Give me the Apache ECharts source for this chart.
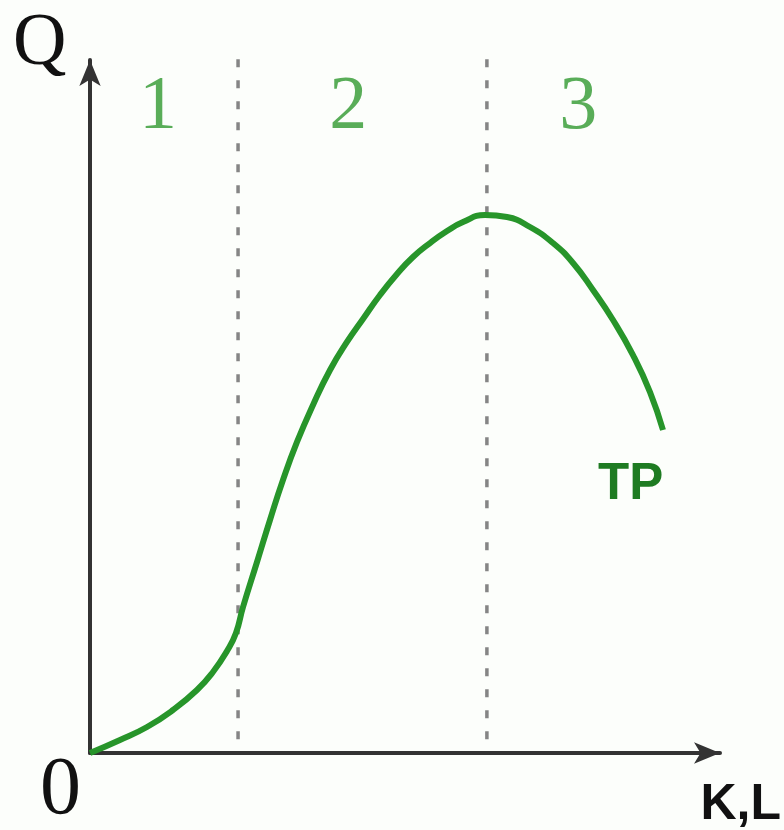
<!DOCTYPE html>
<html>
<head>
<meta charset="utf-8">
<script src="https://cdn.jsdelivr.net/npm/echarts@6/dist/echarts.min.js"></script>
<style>
  html, body { margin: 0; padding: 0; background: #fcfefb; }
  #main { width: 784px; height: 830px; }
</style>
</head>
<body>
<div id="main"></div>
<script>
// total product curve (x: input K,L, y: output Q)
var inputs = [0, 4.76, 9.05, 13.17, 16.98, 19.52, 21.75, 23.17, 24.29, 26.51, 28.57, 30.63, 32.86,
    35.40, 38.10, 40.79, 43.33, 46.03, 48.73, 51.27, 53.97, 56.67, 59.21, 62.70, 66.19, 69.84,
    73.49, 76.67, 79.84, 83.02, 86.19, 88.89, 90.95];
var output = [0, 1.88, 3.75, 6.20, 9.09, 11.69, 14.72, 17.32, 21.07, 27.56, 33.62, 39.39, 44.88,
    50.22, 55.27, 59.31, 62.63, 66.09, 69.12, 71.57, 73.59, 75.32, 76.62, 77.63, 77.34, 75.90,
    73.59, 70.71, 66.81, 62.48, 57.43, 52.09, 46.61];

// stage boundaries and stage names
var boundaries = [23.5, 63.0];
var stageNames = ["1", "2", "3"];
var stageX = [10.8, 41.0, 77.5];
var stageY = 93;

var myChart = echarts.init(document.getElementById("main"), null, {
    width: 784,
    height: 830,
});

var curve = inputs.map(function (x, i) {
    return [x, output[i]];
});

var boundarySeries = boundaries.map(function (b) {
    return {
        type: "line",
        data: [[b, 2], [b, 101.5]],
        clip: false,
        showSymbol: false,
        silent: true,
        lineStyle: { color: "#858585", width: 3.5, type: [8, 13] },
        z: 1,
    };
});

var option = {
    backgroundColor: "#fcfefb",
    animation: false,
    grid: { left: 90, right: 64, top: 60, bottom: 77 },
    xAxis: {
        type: "value",
        min: 0,
        max: 100,
        axisLine: {
            show: true,
            symbol: ["none", "arrow"],
            symbolSize: [16, 26],
            lineStyle: { color: "#333", width: 4 },
        },
        axisTick: { show: false },
        axisLabel: { show: false },
        splitLine: { show: false },
    },
    yAxis: {
        type: "value",
        min: 0,
        max: 100,
        axisLine: {
            show: true,
            symbol: ["none", "arrow"],
            symbolSize: [16, 26],
            lineStyle: { color: "#333", width: 4 },
        },
        axisTick: { show: false },
        axisLabel: { show: false },
        splitLine: { show: false },
    },
    series: boundarySeries.concat([
        {
            type: "line",
            data: curve,
            smooth: 0.5,
            showSymbol: false,
            lineStyle: { color: "#27952a", width: 6 },
            z: 3,
        },
        {
            type: "scatter",
            data: stageX.map(function (x, i) {
                return [x, stageY, stageNames[i]];
            }),
            symbolSize: 0,
            label: {
                show: true,
                position: "inside",
                formatter: function (p) {
                    return p.data[2];
                },
                fontFamily: "Liberation Serif",
                fontSize: 76,
                color: "#2f982f",
            },
        },
    ]),
    graphic: [
        {
            type: "text",
            left: 13,
            top: 8,
            style: { text: "Q", font: "74px 'Liberation Serif'", fill: "#111" },
        },
        {
            type: "text",
            left: 40,
            top: 750,
            style: { text: "0", font: "82px 'Liberation Serif'", fill: "#111" },
        },
        {
            type: "text",
            right: 3,
            top: 780,
            style: { text: "K,L", font: "bold 50px 'Liberation Sans'", fill: "#111" },
        },
        {
            type: "text",
            left: 598,
            top: 459,
            style: { text: "TP", font: "bold 51px 'Liberation Sans'", fill: "#1e7b22" },
        },
    ],
};
myChart.setOption(option);
</script>
</body>
</html>
